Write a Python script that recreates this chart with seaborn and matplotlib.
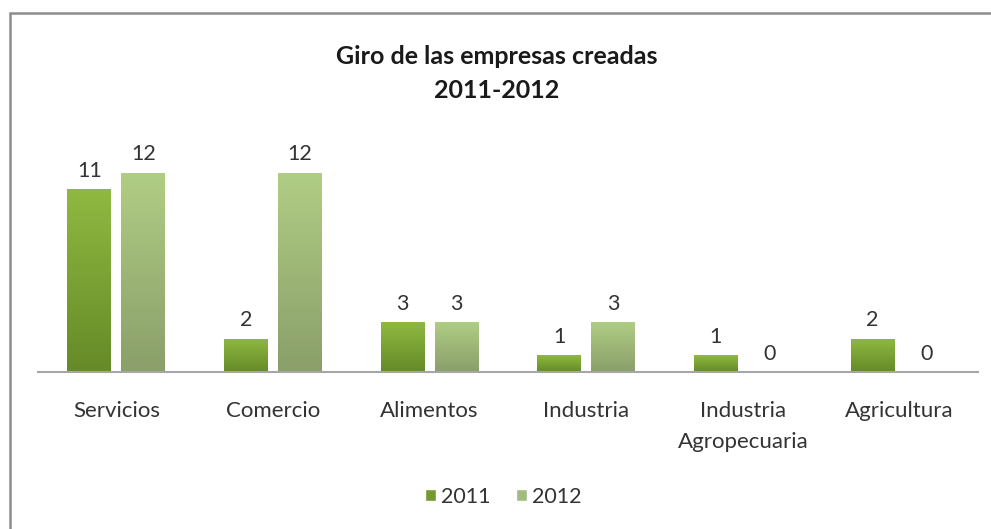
import numpy as np
import pandas as pd
import matplotlib
matplotlib.use("Agg")
import matplotlib.pyplot as plt
from matplotlib.patches import Rectangle, Patch
from matplotlib.colors import LinearSegmentedColormap
import seaborn as sns

categorias = ["Servicios", "Comercio", "Alimentos", "Industria",
              "Industria\nAgropecuaria", "Agricultura"]
anios = ["2011", "2012"]
valores_2011 = [11, 2, 3, 1, 1, 2]
valores_2012 = [12, 12, 3, 3, 0, 0]

df = pd.DataFrame({
    "giro": categorias * 2,
    "anio": ["2011"] * len(categorias) + ["2012"] * len(categorias),
    "empresas": valores_2011 + valores_2012,
})

sns.set_style("white")
plt.rcParams["font.family"] = ["Lato", "DejaVu Sans"]

# colores de degradado (arriba, abajo)
grad = {"2011": ("#8fb941", "#658a28"), "2012": ("#b0cd84", "#8a9f6a")}
legend_col = {"2011": "#75982f", "2012": "#a3bb7e"}

fig = plt.figure(figsize=(9.91, 5.29), dpi=100)
ax = fig.add_axes([38 / 991, 1 - 372 / 529, 940 / 991, 260 / 529])

sns.barplot(data=df, x="giro", y="empresas", hue="anio", order=categorias,
            hue_order=anios, width=0.69, gap=0.19, palette=legend_col,
            ax=ax, legend=False)

# degradado vertical en cada barra
for cont, anio in zip(ax.containers, anios):
    cmap = LinearSegmentedColormap.from_list(anio, [grad[anio][1], grad[anio][0]])
    for bar in cont:
        h = bar.get_height()
        x0 = bar.get_x()
        w = bar.get_width()
        if h <= 0:
            continue
        bar.set_facecolor("none")
        img = ax.imshow(np.linspace(0, 1, 100).reshape(-1, 1), cmap=cmap,
                        extent=[x0, x0 + w, 0, h], origin="lower",
                        aspect="auto", zorder=bar.get_zorder())
        img.set_clip_path(bar)
    ax.bar_label(cont, padding=6, fontsize=15.5, color="#333333")

ax.set_aspect("auto")
ax.set_xlim(-0.5, len(categorias) - 0.5)
ax.set_ylim(0, 260 / 16.6)

sns.despine(ax=ax, left=True)
ax.spines["bottom"].set_color("#a6a6a6")
ax.spines["bottom"].set_linewidth(1.5)
ax.set_yticks([])
ax.set_xlabel("")
ax.set_ylabel("")
ax.tick_params(axis="x", length=0, pad=21, labelsize=16, labelcolor="#333333")
for t in ax.get_xticklabels():
    t.set_linespacing(1.7)
    t.set_verticalalignment("top")

fig.text(0.5015, 1 - 57 / 529, "Giro de las empresas creadas", ha="center",
         va="center", fontsize=18, fontweight="bold", color="#1a1a1a")
fig.text(0.5015, 1 - 90 / 529, "2011-2012", ha="center",
         va="center", fontsize=18, fontweight="bold", color="#1a1a1a")

handles = [Patch(facecolor=legend_col[a], label=a) for a in anios]
fig.legend(handles=handles, loc="center", bbox_to_anchor=(0.508, 1 - 497 / 529),
           ncol=2, frameon=False, fontsize=15.5, handlelength=0.5,
           handleheight=0.5, handletextpad=0.25, columnspacing=1.2,
           labelcolor="#333333")

# marco del grafico
fig.patches.append(Rectangle((9.5 / 991, -0.1), 1.2, 1 - 12.5 / 529 + 0.1,
                             transform=fig.transFigure, fill=False,
                             edgecolor="#8c8c8c", linewidth=1.8))

fig.savefig("out.png", dpi=100)
